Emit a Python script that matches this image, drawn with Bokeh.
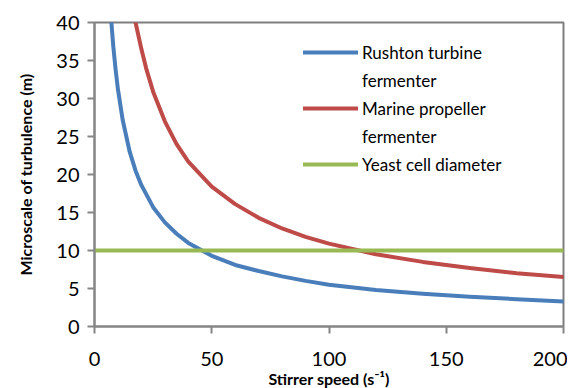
from bokeh.plotting import figure
from bokeh.models import Legend, LegendItem, Range1d, FixedTicker
from bokeh.embed import file_html
from bokeh.resources import INLINE

# Data
rushton_x = [7.2, 8, 9, 10, 12, 15, 17.5, 20, 25, 30, 35, 40, 50, 60, 70, 80, 90, 100, 120, 140, 160, 180, 200]
rushton_y = [40.0, 36.9, 33.8, 31.2, 27.2, 23.0, 20.5, 18.6, 15.7, 13.7, 12.2, 11.0, 9.3, 8.1, 7.3, 6.6, 6.0, 5.5, 4.8, 4.3, 3.9, 3.6, 3.3]
marine_x = [17.5, 20, 22, 25, 30, 35, 40, 50, 60, 70, 80, 90, 100, 120, 140, 160, 180, 200]
marine_y = [40.0, 36.5, 34.0, 30.9, 27.0, 24.0, 21.7, 18.4, 16.1, 14.3, 12.9, 11.8, 10.9, 9.5, 8.5, 7.7, 7.0, 6.5]
yeast_x = [0, 200]
yeast_y = [10, 10]
x_ticks = [0, 50, 100, 150, 200]
y_ticks = [0, 5, 10, 15, 20, 25, 30, 35, 40]
legend_lines = ["Rushton turbine", "fermenter", "Marine propeller", "fermenter", "Yeast cell diameter"]

FONT = "Lato"
AX = "#868686"

p = figure(frame_width=469, frame_height=304, output_backend="svg", toolbar_location=None,
           x_range=Range1d(0, 200), y_range=Range1d(0, 40),
           min_border_left=94, min_border_right=4, min_border_top=22, min_border_bottom=46)
p.background_fill_color = "white"
p.border_fill_color = "white"
p.outline_line_color = "#7f7f7f"
p.outline_line_width = 2
p.xgrid.visible = False
p.ygrid.visible = False

r1 = p.line(rushton_x, rushton_y, line_color="#4A7EBB", line_width=4, line_cap="round", line_join="round")
r2 = p.line(marine_x, marine_y, line_color="#BE4B48", line_width=4, line_cap="round", line_join="round")
r3 = p.line(yeast_x, yeast_y, line_color="#98B954", line_width=4, line_cap="round")
blank = p.line(yeast_x, yeast_y, line_alpha=0)

for ax in (p.xaxis[0], p.yaxis[0]):
    ax.axis_line_color = AX
    ax.axis_line_width = 2
    ax.major_tick_line_color = AX
    ax.major_tick_line_width = 2
    ax.major_tick_in = 0
    ax.major_tick_out = 7
    ax.minor_tick_line_color = None
    ax.major_label_text_font = FONT
    ax.major_label_text_font_size = "20px"
    ax.major_label_text_color = "black"
    ax.axis_label_text_font = FONT
    ax.axis_label_text_font_size = "16px"
    ax.axis_label_text_font_style = "bold"
    ax.axis_label_text_color = "black"

p.xaxis[0].ticker = FixedTicker(ticks=x_ticks)
p.yaxis[0].ticker = FixedTicker(ticks=y_ticks)
p.xaxis[0].axis_label = "Stirrer speed (s\u207b\u00b9)"
p.yaxis[0].axis_label = "Microscale of turbulence (m)"
p.xaxis[0].major_label_standoff = 18
p.yaxis[0].major_label_standoff = 8
p.xaxis[0].axis_label_standoff = 0
p.yaxis[0].axis_label_standoff = 18

renderers = [r1, blank, r2, blank, r3]
legend = Legend(items=[LegendItem(label=t, renderers=[r]) for t, r in zip(legend_lines, renderers)],
                location=(209, 148), padding=0, margin=0, spacing=0,
                glyph_width=55, glyph_height=28, label_standoff=4, label_height=28,
                label_text_font=FONT, label_text_font_size="17px", label_text_color="black",
                border_line_color=None, background_fill_alpha=0)
p.add_layout(legend)

open("out.html", "w").write(file_html(p, INLINE))
